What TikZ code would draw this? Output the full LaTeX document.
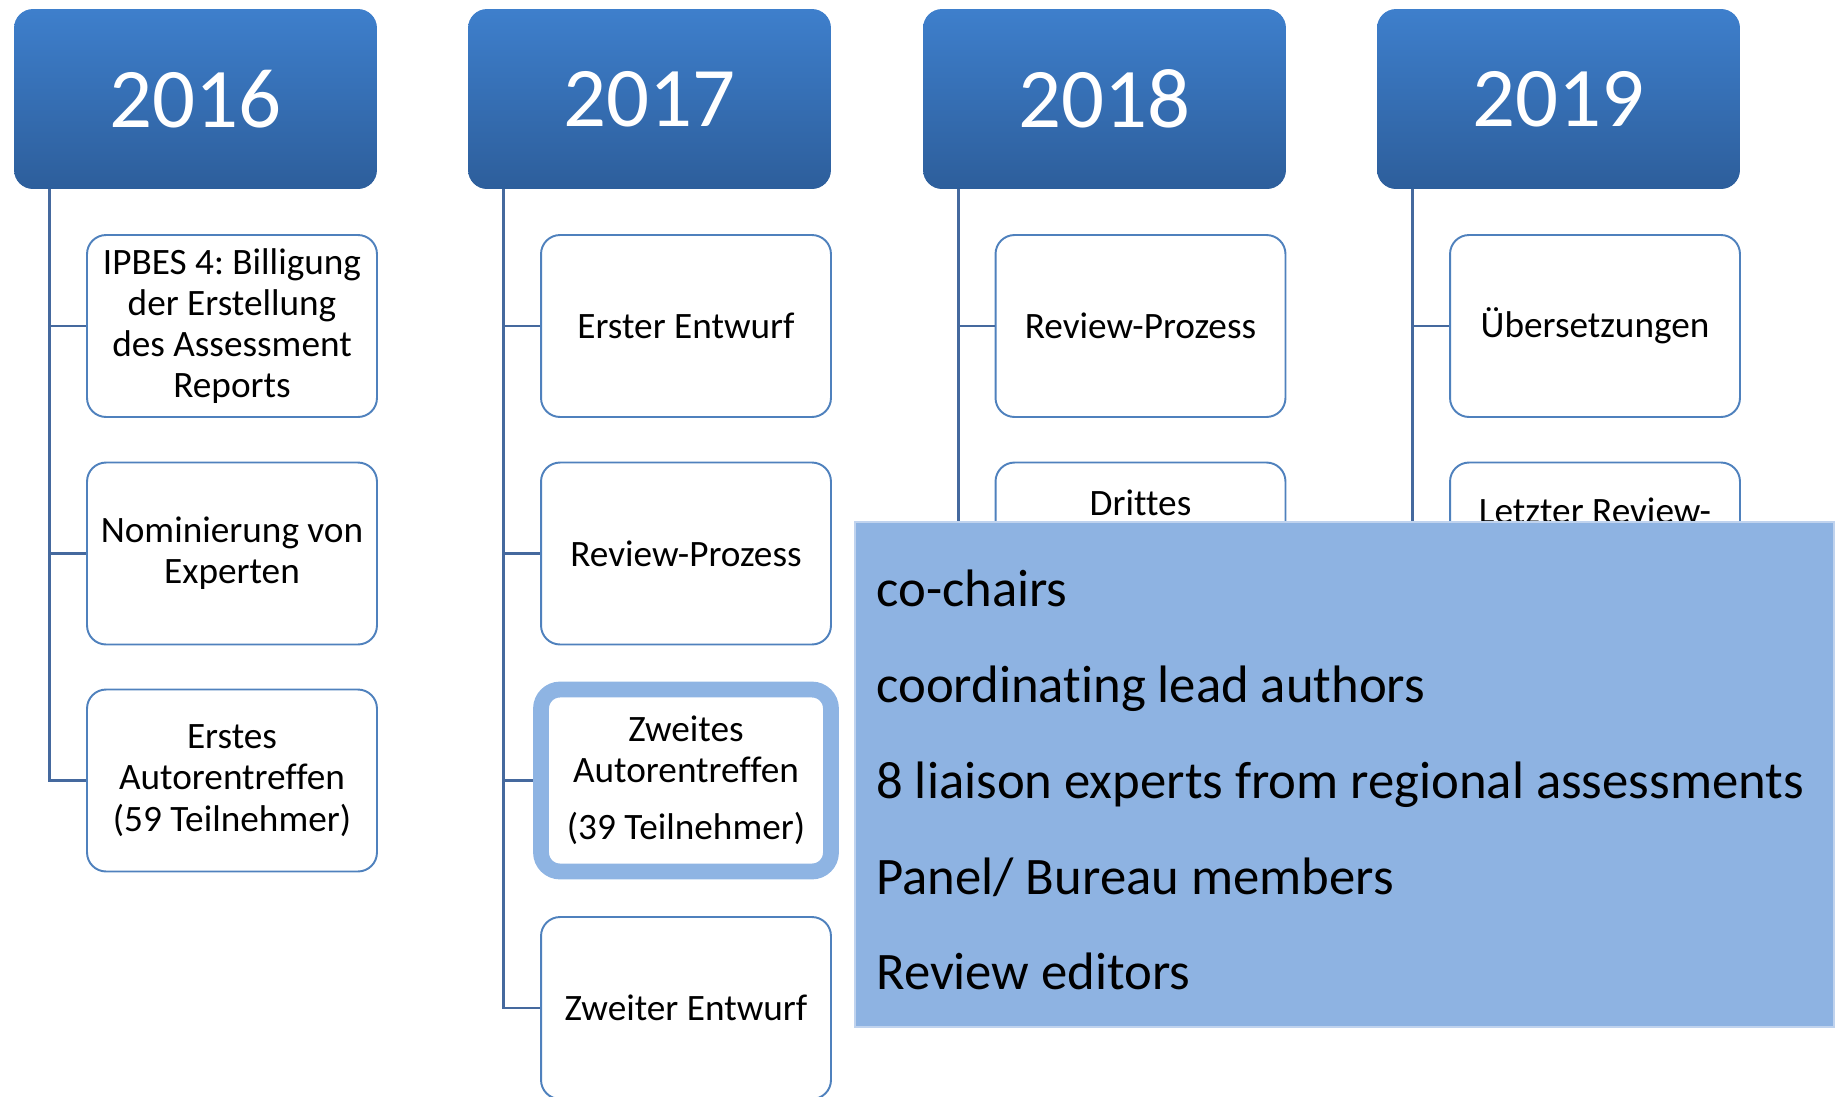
\documentclass[tikz,border=0pt]{standalone}
\usepackage{fontspec}
\setmainfont[Ligatures=NoCommon]{Carlito}
\usepackage{xcolor}
\usepackage{tikz}
\frenchspacing
\definecolor{yeartop}{RGB}{62,127,204}
\definecolor{yearbot}{RGB}{45,94,155}
\definecolor{boxline}{RGB}{79,129,189}
\definecolor{trunk}{RGB}{69,105,158}
\definecolor{hilite}{RGB}{142,180,227}
\definecolor{panelfill}{RGB}{142,179,226}
\definecolor{panelline}{RGB}{192,211,238}

\begin{document}
\begin{tikzpicture}[x=0.02cm,y=-0.02cm,
	year/.style={rectangle,rounded corners=0.38cm,minimum width=7.26cm,minimum height=3.6cm,top color=yeartop,bottom color=yearbot,text=white,font=\fontsize{48.3}{58}\selectfont},
	task/.style={rectangle,rounded corners=0.38cm,minimum width=5.8cm,minimum height=3.64cm,draw=boxline,line width=1.1pt,fill=white,align=center,font=\fontsize{21.2}{23.5}\selectfont},
	conn/.style={draw=trunk,line width=1.4pt},
	panel/.style={rectangle,minimum width=19.58cm,minimum height=10.1cm,fill=panelfill,draw=panelline,line width=0.8pt}]
	\useasboundingbox (0,0) rectangle (1836,1096);

	\node[year] (y16) at (195.5,99) {2016};
	\node[year] (y17) at (649.5,99) {2017};
	\node[year] (y18) at (1104.5,99) {2018};
	\node[year] (y19) at (1558.5,99) {2019};

	\node[task] (c16a) at (232,326) {IPBES 4: Billigung\\der Erstellung\\des Assessment\\Reports};
	\node[task] (c16b) at (232,553.5) {Nominierung von\\Experten};
	\node[task] (c16c) at (232,780.5) {Erstes\\Autorentreffen\\(59 Teilnehmer)};

	\node[task] (c17a) at (686,326) {Erster Entwurf};
	\node[task] (c17b) at (686,553.5) {Review-Prozess};
	\node[task,draw=hilite,line width=9pt] (c17c) at (686,780.5) {Zweites\\Autorentreffen\\[9pt](39 Teilnehmer)};
	\node[task] (c17d) at (686,1008) {Zweiter Entwurf};

	\node[task] (c18a) at (1140.5,326) {Review-Prozess};
	\node[task] (c18b) at (1140.5,553.5) {};
	\node[font=\fontsize{21.2}{23.5}\selectfont] (t18b) at (1140.5,503) {Drittes};

	\node[task] (c19a) at (1595,326) {Übersetzungen};
	\node[task] (c19b) at (1595,553.5) {};
	\node[font=\fontsize{21.2}{23.5}\selectfont] (t19b) at (1595,511) {Letzter Review-};

\draw[conn] ([xshift=0.72cm]y16.south west) |- (c16a.west);
\draw[conn] ([xshift=0.72cm]y16.south west) |- (c16b.west);
\draw[conn] ([xshift=0.72cm]y16.south west) |- (c16c.west);
\draw[conn] ([xshift=0.72cm]y17.south west) |- (c17a.west);
\draw[conn] ([xshift=0.72cm]y17.south west) |- (c17b.west);
\draw[conn] ([xshift=0.72cm]y17.south west) |- (c17c.west);
\draw[conn] ([xshift=0.72cm]y17.south west) |- (c17d.west);
\draw[conn] ([xshift=0.72cm]y18.south west) |- (c18a.west);
\draw[conn] ([xshift=0.72cm]y18.south west) |- (c18b.west);
\draw[conn] ([xshift=0.72cm]y19.south west) |- (c19a.west);
\draw[conn] ([xshift=0.72cm]y19.south west) |- (c19b.west);

	\node[panel] (panel) at (1344.5,774.5) {};
	\node[anchor=west,align=left,inner sep=0pt,font=\fontsize{30}{54.6}\selectfont] (members) at (876,780) {co-chairs\\coordinating lead authors\\8 liaison experts from regional assessments\\Panel/ Bureau members\\Review editors};
\end{tikzpicture}
\end{document}
